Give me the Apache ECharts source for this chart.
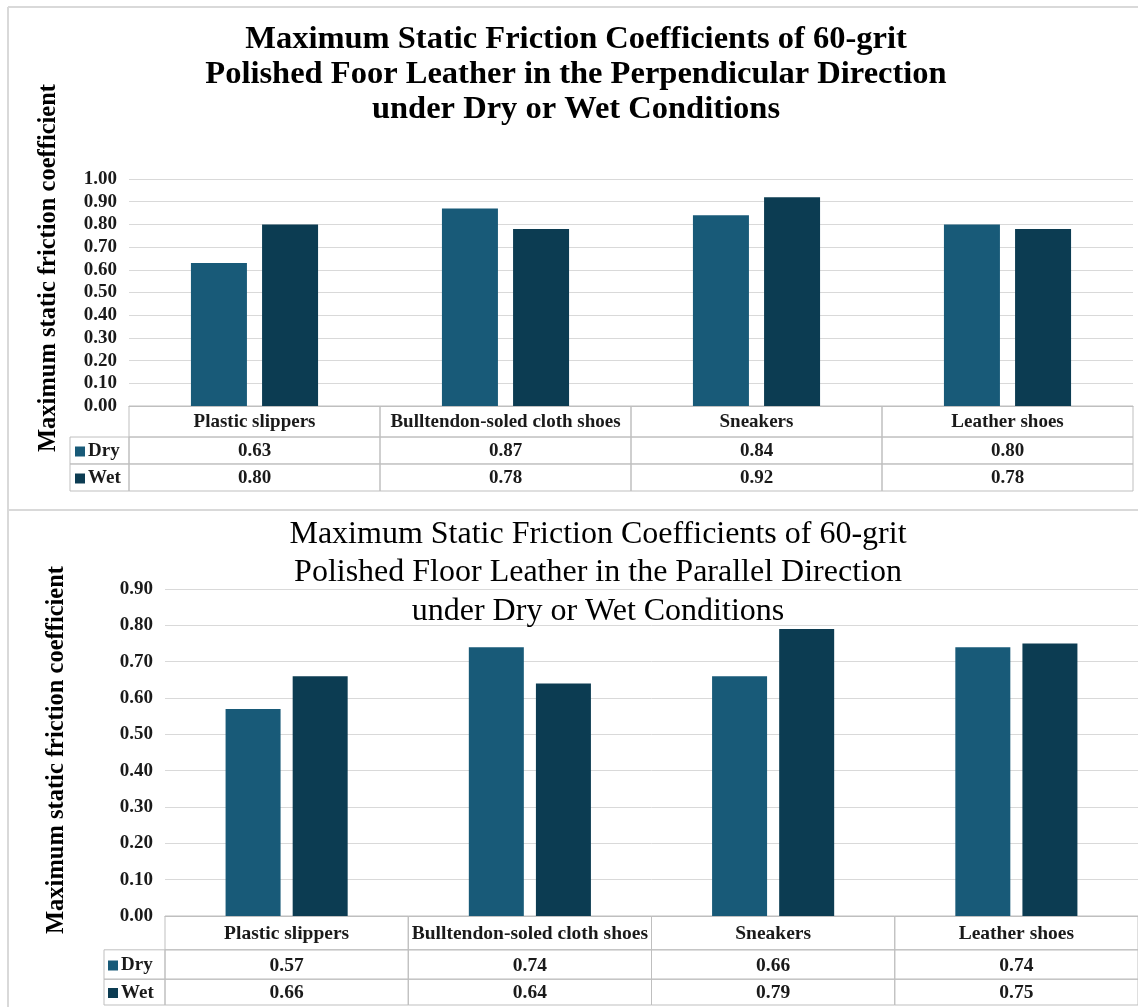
<!DOCTYPE html>
<html>
<head>
<meta charset="utf-8">
<title>Maximum Static Friction Coefficients of 60-grit Polished Floor Leather</title>
<script src="https://cdn.jsdelivr.net/npm/echarts@6/dist/echarts.min.js"></script>
<style>
  html, body { margin: 0; padding: 0; background: #ffffff; }
  #chart { width: 1138px; height: 1007px; }
</style>
</head>
<body>
<div id="chart"></div>
<script>
// ---- data ----
const categories = ['Plastic slippers', 'Bulltendon-soled cloth shoes', 'Sneakers', 'Leather shoes'];
const seriesNames = ['Dry', 'Wet'];

// perpendicular direction
const perpDry = [0.63, 0.87, 0.84, 0.80];
const perpWet = [0.80, 0.78, 0.92, 0.78];
// parallel direction
const paraDry = [0.57, 0.74, 0.66, 0.74];
const paraWet = [0.66, 0.64, 0.79, 0.75];

const perpAxisMax = 1.0;
const paraAxisMax = 0.9;
const tickStep = 0.1;

const perpTitle = 'Maximum Static Friction Coefficients of 60-grit\nPolished Foor Leather in the Perpendicular Direction\nunder Dry or Wet Conditions';
const paraTitle = 'Maximum Static Friction Coefficients of 60-grit\nPolished Floor Leather in the Parallel Direction\nunder Dry or Wet Conditions';
const yAxisTitle = 'Maximum static friction coefficient';

// ---- style ----
const FONT = '"Liberation Serif", "Times New Roman", serif';
const DRY_COLOR = '#185a78';
const WET_COLOR = '#0c3c52';
const GRID_COLOR = '#d9d9d9';
const TABLE_COLOR = '#bfbfbf';
const TEXT_COLOR = '#1a1a1a';

// Table row boundaries (fraction of table height, from the bottom): Wet, Dry, header
const perpRowEdges = [0, 0.318, 0.635, 1];
const paraRowEdges = [0, 0.29, 0.62, 1];

// table rows: 0 = Wet, 1 = Dry, 2 = category header
function tableData(dry, wet) {
  const out = [];
  categories.forEach((c, i) => {
    out.push([i, 2, 0]);
    out.push([i, 1, dry[i]]);
    out.push([i, 0, wet[i]]);
  });
  return out;
}

function tableRenderer(edges, legendW, fontSize) {
  return function (params, api) {
    const ci = api.value(0);
    const row = api.value(1);
    const num = api.value(2);
    const center = api.coord([ci, 0]);
    const bw = api.size([1, 0])[0];
    const x0 = center[0] - bw / 2;
    const yTop = api.coord([ci, edges[row + 1]])[1];
    const yBot = api.coord([ci, edges[row]])[1];
    const label = row === 2 ? categories[ci] : num.toFixed(2);
    const children = [
      {
        type: 'rect',
        shape: { x: x0, y: yTop, width: bw, height: yBot - yTop },
        style: { fill: 'none', stroke: TABLE_COLOR, lineWidth: 1 }
      },
      {
        type: 'text',
        x: center[0],
        y: (yTop + yBot) / 2 + 1,
        style: {
          text: label,
          align: 'center',
          verticalAlign: 'middle',
          font: 'bold ' + fontSize + 'px ' + FONT,
          fill: TEXT_COLOR
        }
      }
    ];
    if (ci === 0 && row < 2) {
      children.push({
        type: 'rect',
        shape: { x: x0 - legendW, y: yTop, width: legendW, height: yBot - yTop },
        style: { fill: 'none', stroke: TABLE_COLOR, lineWidth: 1 }
      });
    }
    return { type: 'group', children: children };
  };
}

const axisLabelStyle = { fontFamily: FONT, fontWeight: 'bold', fontSize: 19, color: TEXT_COLOR, margin: 12,
  formatter: v => v.toFixed(2) };

const legendText = { fontFamily: FONT, fontWeight: 'bold', fontSize: 19, color: TEXT_COLOR, padding: [0, 0, 0, -2] };

const chart = echarts.init(document.getElementById('chart'), null, { renderer: 'canvas' });

const option = {
  backgroundColor: '#ffffff',
  animation: false,
  title: [
    {
      text: perpTitle,
      left: 571, top: 17, textAlign: 'center',
      textStyle: { fontFamily: FONT, fontWeight: 'bold', fontSize: 32.5, lineHeight: 35, color: '#000000' }
    },
    {
      text: paraTitle,
      left: 593, top: 510, textAlign: 'center',
      textStyle: { fontFamily: FONT, fontWeight: 'normal', fontSize: 32, lineHeight: 38.5, color: '#000000' }
    }
  ],
  legend: [
    {
      data: seriesNames, orient: 'vertical', left: 75, top: 442, padding: 0,
      itemWidth: 10, itemHeight: 10, itemGap: 8, icon: 'rect', selectedMode: false,
      textStyle: legendText
    },
    {
      data: seriesNames, orient: 'vertical', left: 108, top: 956, padding: 0,
      itemWidth: 10, itemHeight: 10, itemGap: 8.5, icon: 'rect', selectedMode: false,
      textStyle: legendText
    }
  ],
  grid: [
    { left: 129, top: 179, width: 1004, height: 227 },   // perpendicular plot
    { left: 129, top: 406, width: 1004, height: 85 },    // perpendicular table
    { left: 165, top: 589, width: 978, height: 327 },    // parallel plot
    { left: 165, top: 916, width: 978, height: 89 }      // parallel table
  ],
  xAxis: [
    { gridIndex: 0, type: 'category', data: categories, axisLabel: { show: false },
      axisTick: { show: false }, axisLine: { lineStyle: { color: TABLE_COLOR } } },
    { gridIndex: 1, type: 'category', data: categories, show: false },
    { gridIndex: 2, type: 'category', data: categories, axisLabel: { show: false },
      axisTick: { show: false }, axisLine: { lineStyle: { color: TABLE_COLOR } } },
    { gridIndex: 3, type: 'category', data: categories, show: false }
  ],
  yAxis: [
    { gridIndex: 0, type: 'value', min: 0, max: perpAxisMax, interval: tickStep,
      axisLabel: axisLabelStyle, axisLine: { show: false }, axisTick: { show: false },
      splitLine: { lineStyle: { color: GRID_COLOR, width: 1 } } },
    { gridIndex: 1, type: 'value', min: 0, max: 1, show: false },
    { gridIndex: 2, type: 'value', min: 0, max: paraAxisMax, interval: tickStep,
      axisLabel: axisLabelStyle, axisLine: { show: false }, axisTick: { show: false },
      splitLine: { lineStyle: { color: GRID_COLOR, width: 1 } } },
    { gridIndex: 3, type: 'value', min: 0, max: 1, show: false }
  ],
  series: [
    { name: 'Dry', type: 'bar', xAxisIndex: 0, yAxisIndex: 0, data: perpDry,
      barWidth: 56, barGap: '27%', itemStyle: { color: DRY_COLOR } },
    { name: 'Wet', type: 'bar', xAxisIndex: 0, yAxisIndex: 0, data: perpWet,
      barWidth: 56, barGap: '27%', itemStyle: { color: WET_COLOR } },
    { name: 'Dry', type: 'bar', xAxisIndex: 2, yAxisIndex: 2, data: paraDry,
      barWidth: 55, barGap: '22%', itemStyle: { color: DRY_COLOR } },
    { name: 'Wet', type: 'bar', xAxisIndex: 2, yAxisIndex: 2, data: paraWet,
      barWidth: 55, barGap: '22%', itemStyle: { color: WET_COLOR } },
    { type: 'custom', xAxisIndex: 1, yAxisIndex: 1, silent: true, clip: false,
      data: tableData(perpDry, perpWet), renderItem: tableRenderer(perpRowEdges, 59, 19) },
    { type: 'custom', xAxisIndex: 3, yAxisIndex: 3, silent: true, clip: false,
      data: tableData(paraDry, paraWet), renderItem: tableRenderer(paraRowEdges, 61, 19.5) }
  ],
  graphic: [
    // panel frame
    { type: 'line', shape: { x1: 8, y1: 7, x2: 1138, y2: 7 }, style: { stroke: GRID_COLOR, lineWidth: 2 }, silent: true },
    { type: 'line', shape: { x1: 8, y1: 7, x2: 8, y2: 1007 }, style: { stroke: GRID_COLOR, lineWidth: 2 }, silent: true },
    { type: 'line', shape: { x1: 8, y1: 510, x2: 1138, y2: 510 }, style: { stroke: GRID_COLOR, lineWidth: 2 }, silent: true },
    // vertical axis titles
    { type: 'text', x: 49, y: 268, rotation: Math.PI / 2,
      style: { text: yAxisTitle, align: 'center', verticalAlign: 'middle',
        font: 'bold 24.5px ' + FONT, fill: '#000000' } },
    { type: 'text', x: 57, y: 750, rotation: Math.PI / 2,
      style: { text: yAxisTitle, align: 'center', verticalAlign: 'middle',
        font: 'bold 24.5px ' + FONT, fill: '#000000' } }
  ]
};

chart.setOption(option);
</script>
</body>
</html>
